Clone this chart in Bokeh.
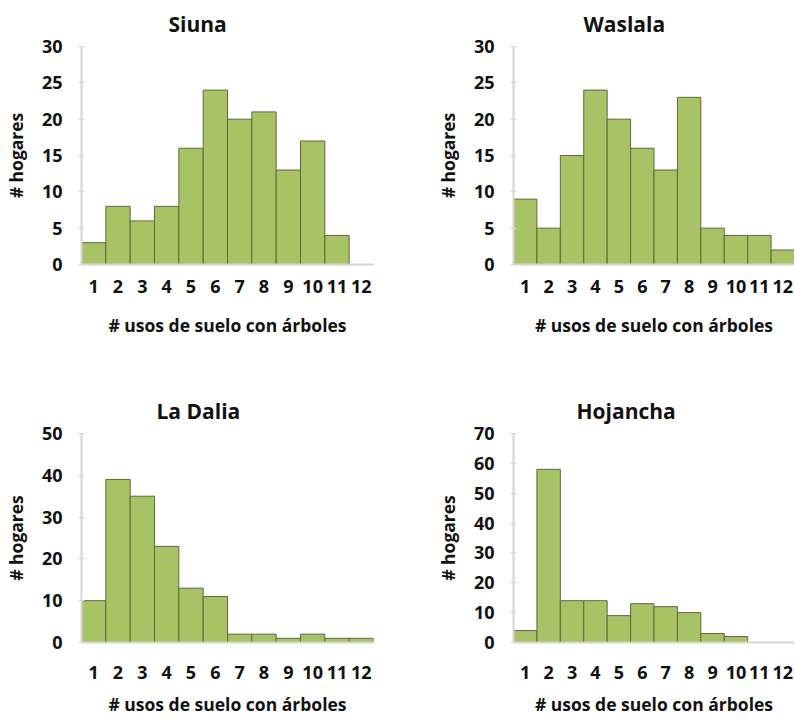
from bokeh.plotting import figure
from bokeh.layouts import gridplot
from bokeh.models import FixedTicker, Range1d
from bokeh.embed import file_html
from bokeh.resources import INLINE

# numero de usos de suelo con arboles (1..12)
usos = list(range(1, 13))

siuna = [3, 8, 6, 8, 16, 24, 20, 21, 13, 17, 4, 0]
waslala = [9, 5, 15, 24, 20, 16, 13, 23, 5, 4, 4, 2]
la_dalia = [10, 39, 35, 23, 13, 11, 2, 2, 1, 2, 1, 1]
hojancha = [4, 58, 14, 14, 9, 13, 12, 10, 3, 2, 0, 0]

y_ticks_30 = [0, 5, 10, 15, 20, 25, 30]
y_ticks_50 = [0, 10, 20, 30, 40, 50]
y_ticks_70 = [0, 10, 20, 30, 40, 50, 60, 70]

FONT = "Open Sans"
BAR = "#a8c366"
EDGE = "#5c6d30"
TXT = "#111111"


def panel(name, counts, yticks, w, h, b_right, b_bottom, t_offset,
          lab_standoff, title_standoff):
    p = figure(width=w, height=h, output_backend="svg", toolbar_location=None,
               x_range=Range1d(0.5, 12.5), y_range=Range1d(0, yticks[-1]),
               min_border_left=80, min_border_right=b_right,
               min_border_top=46, min_border_bottom=b_bottom)
    p.vbar(x=usos, top=counts, width=1.0, bottom=0,
           fill_color=BAR, line_color=EDGE, line_width=1)

    p.title.text = name
    p.title.align = "left"
    p.title.vertical_align = "top"
    p.title.offset = t_offset
    p.title.text_font = FONT
    p.title.text_font_size = "21px"
    p.title.text_font_style = "bold"
    p.title.text_color = TXT
    p.title.standoff = 14

    p.xaxis.ticker = FixedTicker(ticks=usos)
    p.yaxis.ticker = FixedTicker(ticks=yticks)
    p.xaxis.axis_label = "# usos de suelo con árboles"
    p.yaxis.axis_label = "# hogares"

    for ax in (p.xaxis, p.yaxis):
        ax.axis_label_text_font = FONT
        ax.axis_label_text_font_size = "17.5px"
        ax.axis_label_text_font_style = "bold"
        ax.axis_label_text_color = TXT
        ax.major_label_text_font = FONT
        ax.major_label_text_font_size = "18px"
        ax.major_label_text_font_style = "bold"
        ax.major_label_text_color = TXT
        ax.minor_tick_line_color = None
        ax.axis_line_color = "#d4d4d4"
        ax.axis_line_width = 2

    p.xaxis.major_tick_line_color = None
    p.xaxis.major_tick_in = 0
    p.xaxis.major_tick_out = 0
    p.xaxis.major_label_standoff = lab_standoff
    p.xaxis.axis_label_standoff = title_standoff

    p.yaxis.major_tick_line_color = "#d4d4d4"
    p.yaxis.major_tick_in = 3
    p.yaxis.major_tick_out = 3
    p.yaxis.major_label_standoff = 16
    p.yaxis.axis_label_standoff = 11

    p.xgrid.grid_line_color = None
    p.ygrid.grid_line_color = None
    p.outline_line_color = None
    p.background_fill_color = "white"
    p.border_fill_color = "white"
    return p


p1 = panel("Siuna", siuna, y_ticks_30, 432, 387, 59, 123, 87, 15, 17)
p2 = panel("Waslala", waslala, y_ticks_30, 362, 387, 0, 123, 70, 15, 17)
p3 = panel("La Dalia", la_dalia, y_ticks_50, 432, 331, 59, 75, 75, 23, 10)
p4 = panel("Hojancha", hojancha, y_ticks_70, 362, 331, 0, 75, 63, 23, 10)

grid = gridplot([[p1, p2], [p3, p4]], toolbar_location=None)

open("out.html", "w").write(file_html(grid, INLINE))
